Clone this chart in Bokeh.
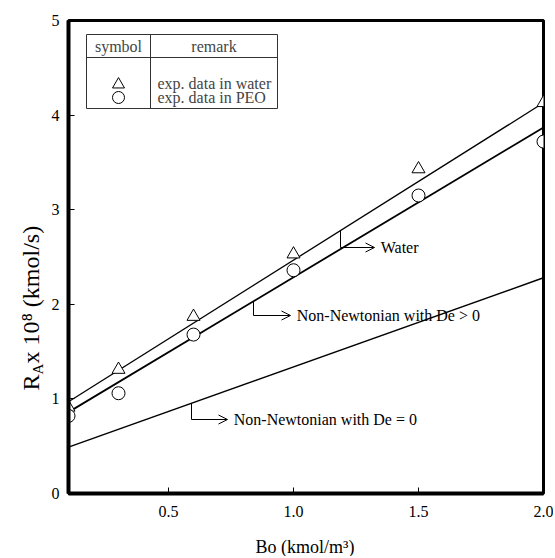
import math
from bokeh.plotting import figure
from bokeh.models import Label, Arrow, OpenHead, FixedTicker, Range1d, PrintfTickFormatter
from bokeh.embed import file_html
from bokeh.resources import INLINE

# ---- data ----
bo_exp = [0.1, 0.3, 0.6, 1.0, 1.5, 2.0]
ra_water = [0.91, 1.31, 1.87, 2.53, 3.43, 4.13]
ra_peo = [0.82, 1.06, 1.68, 2.36, 3.15, 3.72]

bo_line = [0.1, 2.0]
ra_water_line = [0.97, 4.13]
ra_de_pos_line = [0.86, 3.87]
ra_de_zero_line = [0.49, 2.28]

x_ticks = [0.5, 1.0, 1.5, 2.0]
y_ticks = [0, 1, 2, 3, 4, 5]

FONT = "Liberation Serif"

# frame in canvas pixels: left 68, right 543, top 20, bottom 493
p = figure(width=553, height=556, output_backend="svg", toolbar_location=None,
           x_range=Range1d(0.1, 2.0), y_range=Range1d(0, 5),
           min_border_left=68, min_border_right=10, min_border_top=20, min_border_bottom=63)
p.grid.visible = False
p.outline_line_color = "black"
p.outline_line_width = 3
p.background_fill_color = "white"
p.border_fill_color = "white"

for ax in (p.xaxis[0], p.yaxis[0]):
    ax.axis_line_width = 4
    ax.axis_line_color = "black"
    ax.major_tick_in = 6
    ax.major_tick_out = 0
    ax.minor_tick_line_color = None
    ax.major_tick_line_width = 1
    ax.major_label_text_font = FONT
    ax.major_label_text_font_size = "16px"
    ax.major_label_text_color = "black"
p.xaxis[0].ticker = FixedTicker(ticks=x_ticks)
p.xaxis[0].formatter = PrintfTickFormatter(format="%.1f")
p.yaxis[0].ticker = FixedTicker(ticks=y_ticks)
p.xaxis[0].major_label_standoff = 12
p.yaxis[0].major_label_standoff = 9

# ---- lines ----
p.line(bo_line, ra_water_line, line_color="black", line_width=1.3)
p.line(bo_line, ra_de_pos_line, line_color="black", line_width=1.8)
p.line(bo_line, ra_de_zero_line, line_color="black", line_width=1.5)

# ---- experimental points ----
p.scatter(bo_exp, ra_water, marker="triangle", size=13, fill_color="white",
          line_color="black", line_width=1)
p.scatter(bo_exp, ra_peo, marker="circle", size=13, fill_color="white",
          line_color="black", line_width=1)

# ---- helpers for pixel->data ----
X0, PXX = 0.1, 250.0
PXY = 94.6
def dx(px):
    return X0 + (px - 68) / PXX
def dy(py):
    return (493 - py) / PXY

def line_at(x, ys):
    return ys[0] + (ys[1] - ys[0]) * (x - bo_line[0]) / (bo_line[1] - bo_line[0])

# ---- callouts ----
def callout(xs, ys_line, y_bot, x_end, text):
    y_top = line_at(xs, ys_line)
    p.line([xs, xs], [y_top, y_bot], line_color="black", line_width=1)
    p.add_layout(Arrow(end=OpenHead(size=9, line_width=1, line_color="black"),
                       x_start=xs, y_start=y_bot, x_end=x_end, y_end=y_bot,
                       line_color="black", line_width=1))
    p.add_layout(Label(x=x_end + 0.025, y=y_bot, text=text, text_font=FONT,
                       text_font_size="16px", text_baseline="middle", text_align="left",
                       text_color="black"))

callout(dx(340), ra_water_line, dy(247), dx(374), "Water")
callout(dx(253), ra_de_pos_line, dy(315), dx(290), "Non-Newtonian with De > 0")
callout(dx(191), ra_de_zero_line, dy(419), dx(227), "Non-Newtonian with De = 0")

# ---- legend table ----
lx0, lx1, lxm = dx(86), dx(277), dx(150)
ly0, ly1, lym = dy(34), dy(108), dy(57)
p.quad(left=[lx0], right=[lx1], top=[ly0], bottom=[ly1], fill_color="white",
       line_color="#333333", line_width=1)
p.line([lx0, lx1], [lym, lym], line_color="#333333", line_width=1)
p.line([lxm, lxm], [ly0, ly1], line_color="#333333", line_width=1)
p.add_layout(Label(x=(lx0 + lxm) / 2, y=dy(46), text="symbol", text_font=FONT,
                   text_font_size="16px", text_align="center", text_baseline="middle"))
p.add_layout(Label(x=(lxm + lx1) / 2, y=dy(46), text="remark", text_font=FONT,
                   text_font_size="16px", text_align="center", text_baseline="middle"))
p.scatter([(lx0 + lxm) / 2], [dy(84)], marker="triangle", size=12, fill_color="white",
          line_color="black", line_width=1)
p.scatter([(lx0 + lxm) / 2], [dy(97)], marker="circle", size=12, fill_color="white",
          line_color="black", line_width=1)
p.add_layout(Label(x=dx(157), y=dy(83), text="exp. data in water", text_font=FONT,
                   text_font_size="16px", text_align="left", text_baseline="middle"))
p.add_layout(Label(x=dx(157), y=dy(97), text="exp. data in PEO", text_font=FONT,
                   text_font_size="16px", text_align="left", text_baseline="middle"))

# ---- axis titles: labels placed in side panels (not clipped), canvas pixels ----
def clabel(side, x, y, text, size, angle=0.0):
    p.add_layout(Label(x=x, y=y, x_units="canvas", y_units="canvas", text=text,
                       angle=angle, text_font=FONT, text_font_size=f"{size}px",
                       text_align="left", text_baseline="middle", text_color="black"),
                 side)

clabel("below", 255, 546, "Bo (kmol/m\u00b3)", 18)

ang = math.pi / 2
clabel("above", 30, 390, "R", 24, ang)
clabel("below", 37, 374, "A", 15, ang)
clabel("left", 30, 363, " x 10\u2078 (kmol/s)", 24, ang)

open("out.html", "w").write(file_html(p, INLINE))
